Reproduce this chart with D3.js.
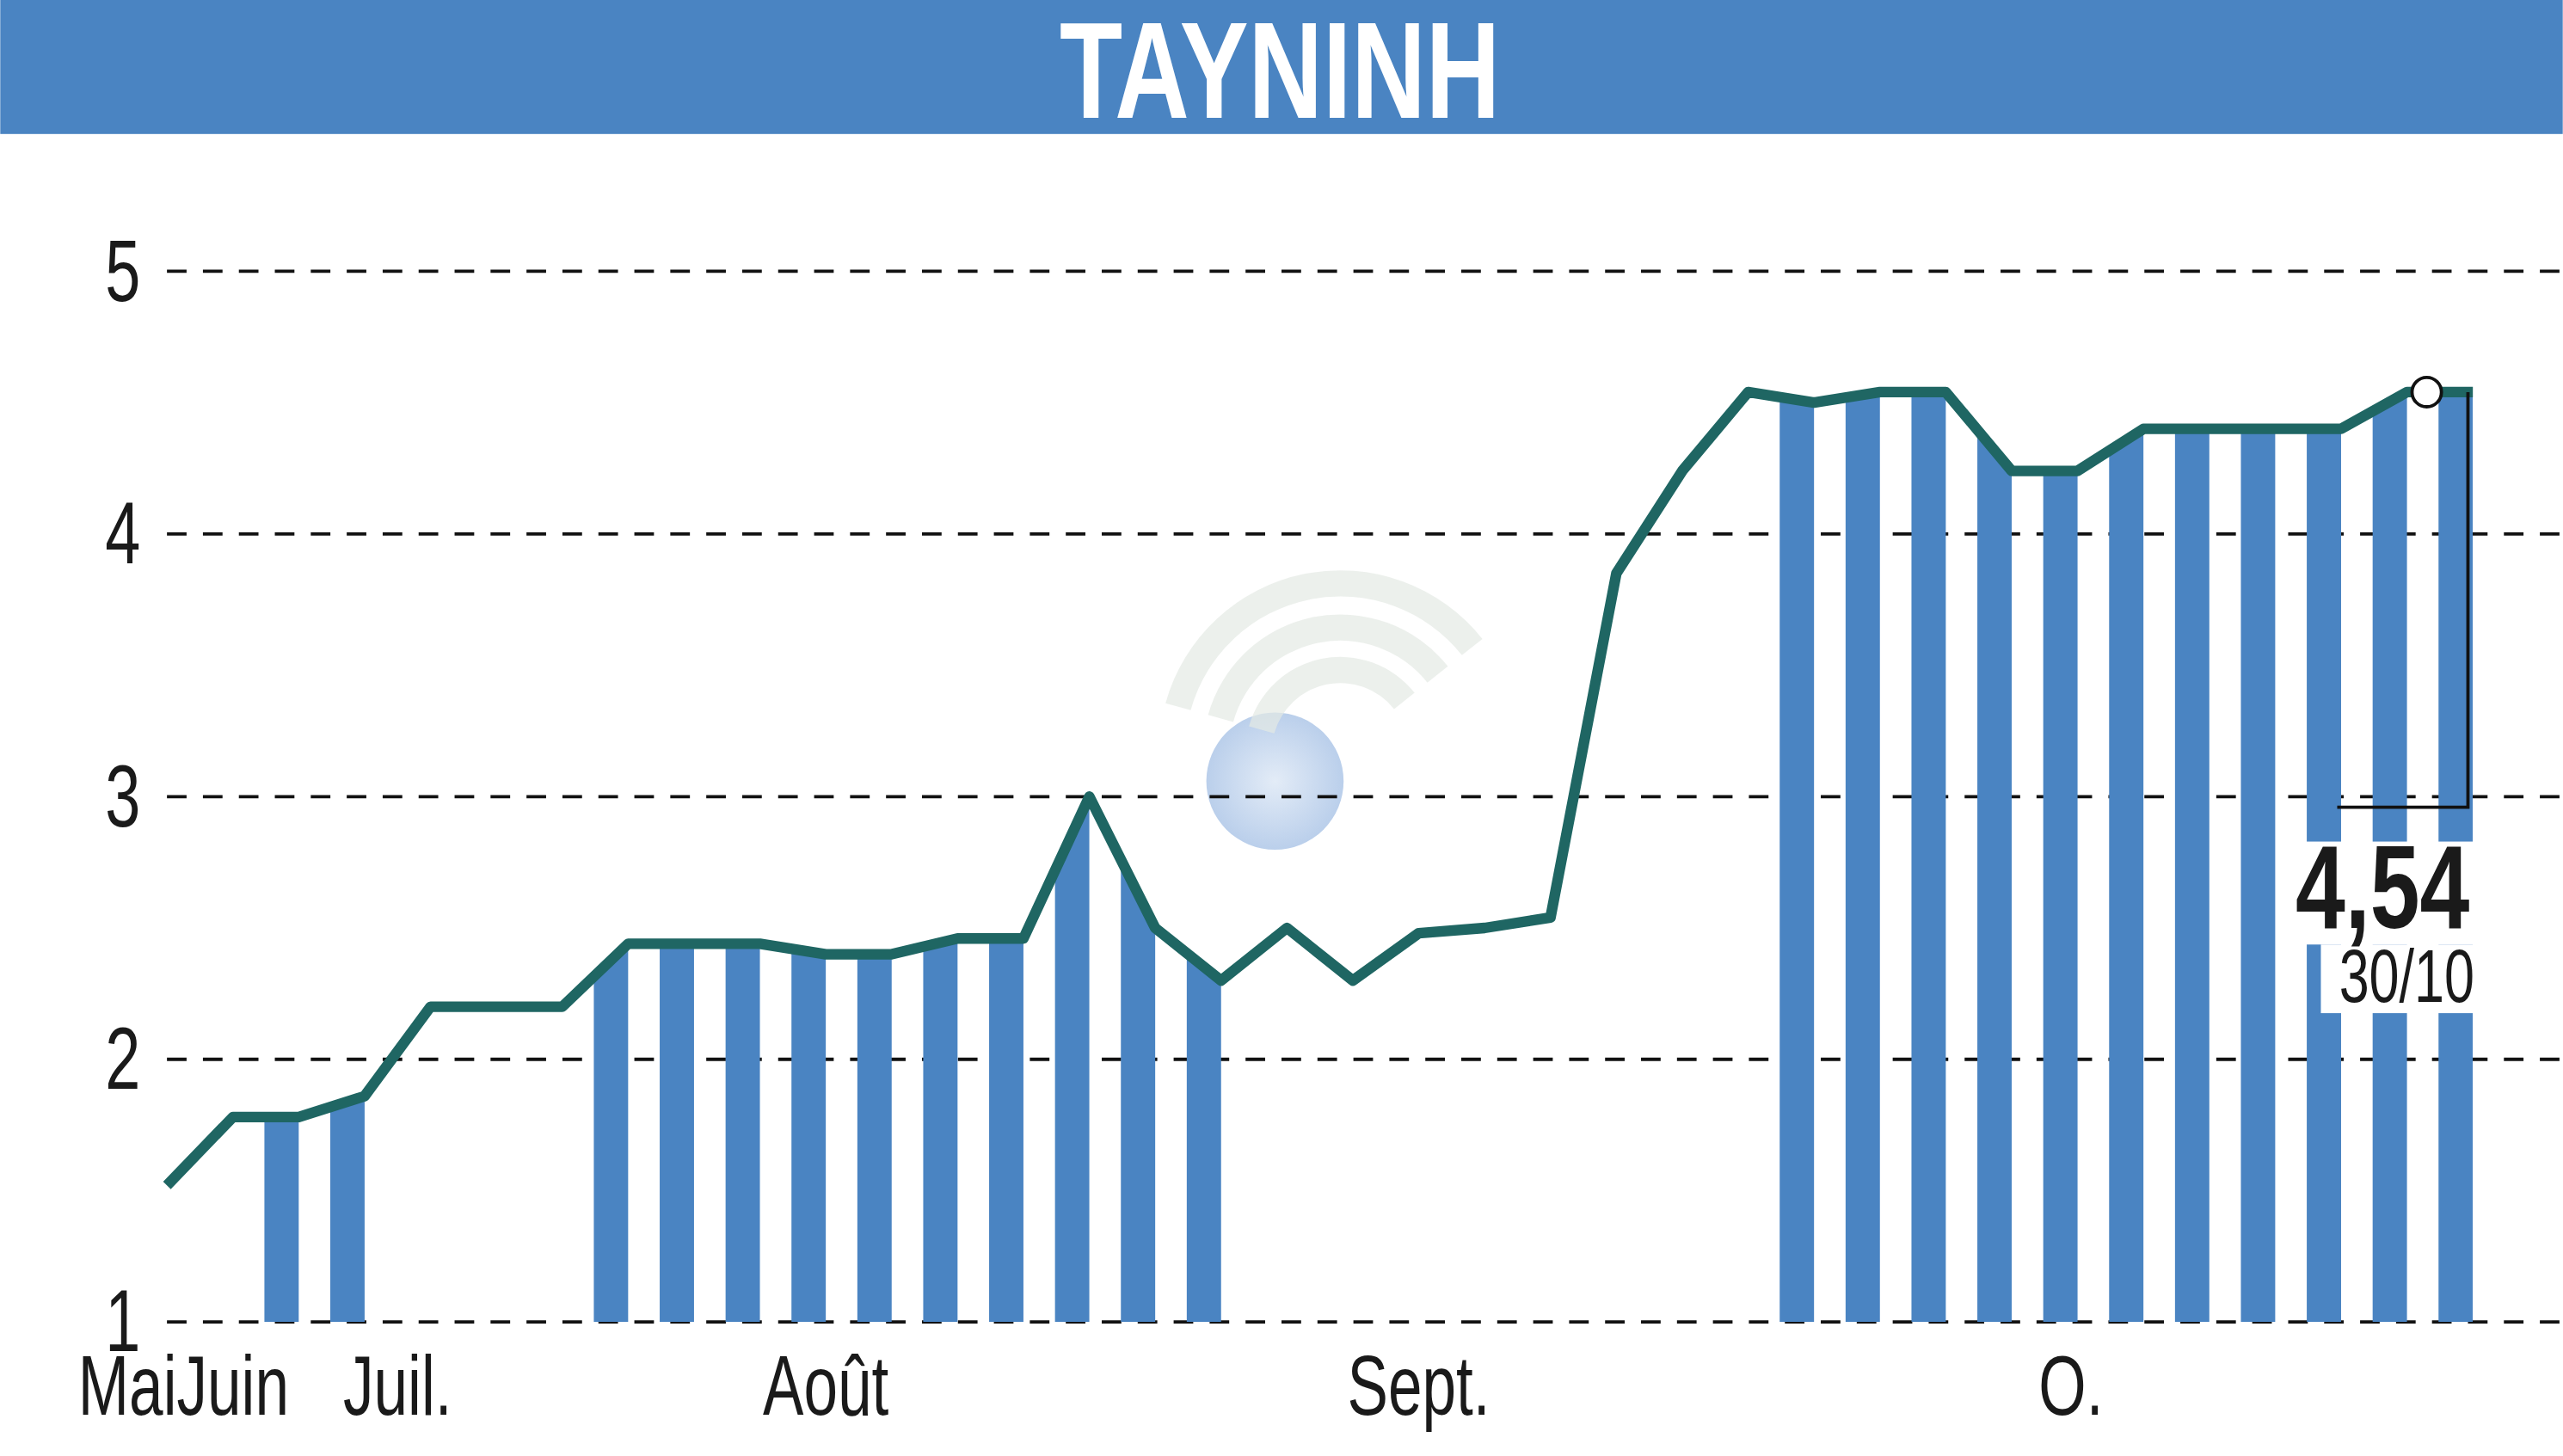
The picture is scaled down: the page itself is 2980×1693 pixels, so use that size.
<!DOCTYPE html>
<html>
<head>
<script src="https://cdn.jsdelivr.net/npm/d3@7"></script>
<style>body{margin:0;background:#fff}</style>
</head>
<body>
<div id="main"></div>
<script>
// price per session (index = session number)
var prices = [1.52,1.78,1.78,1.86,2.2,2.2,2.2,2.44,2.44,2.44,2.4,2.4,2.46,2.46,3.0,2.5,2.3,2.5,2.3,2.48,2.5,2.54,3.85,4.24,4.54,4.5,4.54,4.54,4.24,4.24,4.4,4.4,4.4,4.4,4.54,4.54];
// sessions with a stripe under the line
var stripes = [2,3,7,8,9,10,11,12,13,14,15,16,25,26,27,28,29,30,31,32,33,34,35];
var yTicks = [1,2,3,4,5];
var months = ["Mai","Juin","Juil.","Août","Sept.","O."];
var monthPos = [-0.6,1.0,3.5,10.0,19.0,28.9];
var lastValue = "4,54", lastDate = "30/10";

var W = 1568, H = 891;
var svg = d3.select('#main').append('svg')
  .attr('width', 2980).attr('height', 1693)
  .attr('viewBox', '0 0 ' + W + ' ' + H);

var x = d3.scaleLinear().domain([0, 35]).range([102, 1513]);
var y = d3.scaleLinear().domain([1, 5]).range([809, 166]);
var font = "'Liberation Sans',Arial,sans-serif";

// condensed text: squeeze horizontally around its anchor
function label(px, py, txt, size, anchor, opts) {
  opts = opts || {};
  var g = svg.append('g').attr('transform', 'translate(' + px + ',' + py + ') scale(' + (opts.sx || 0.72) + ',1)');
  return g.append('text').attr('text-anchor', anchor).attr('font-family', font)
    .attr('font-size', size).attr('font-weight', opts.bold ? 'bold' : 'normal')
    .attr('fill', opts.fill || '#1a1a1a').text(txt);
}

// header
svg.append('rect').attr('width', W).attr('height', 82).attr('fill', '#4a84c2');
label(783, 72, 'TAYNINH', 84, 'middle', {bold: true, fill: '#fff', sx: 0.75});

// watermark
var g0 = svg.append('defs').append('radialGradient').attr('id', 'wm');
g0.append('stop').attr('offset', '0%').attr('stop-color', '#dce7f5');
g0.append('stop').attr('offset', '100%').attr('stop-color', '#a9c3e6');
svg.append('circle').attr('cx', 780).attr('cy', 478).attr('r', 42).attr('fill', 'url(#wm)').attr('opacity', 0.8);
[95, 68, 42].forEach(function(r) {
  svg.append('path').attr('d', d3.arc().innerRadius(r).outerRadius(r + 16)
      .startAngle(-1.3).endAngle(0.9)())
    .attr('transform', 'translate(820,460)').attr('fill', '#e4e9e4').attr('opacity', 0.7);
});

// grid
svg.selectAll('.grid').data(yTicks).enter().append('line')
  .attr('x1', 102).attr('x2', W).attr('y1', y).attr('y2', y)
  .attr('stroke', '#111').attr('stroke-width', 2).attr('stroke-dasharray', '12,10');
yTicks.forEach(function(d) { label(75, y(d) + 18, d, 54, 'middle'); });

// stripes clipped to area under line
var area = d3.area().x(function(d, i) { return x(i); }).y0(y(1)).y1(function(d) { return y(d); });
svg.append('clipPath').attr('id', 'under').append('path').attr('d', area(prices));
svg.append('g').attr('clip-path', 'url(#under)').selectAll('rect').data(stripes).enter().append('rect')
  .attr('x', function(i) { return x(i) - 21; }).attr('width', 21)
  .attr('y', 150).attr('height', y(1) - 150).attr('fill', '#4a84c2');

// label boxes
svg.append('rect').attr('x', 1400).attr('y', 515).attr('width', 116).attr('height', 63).attr('fill', '#fff');
svg.append('rect').attr('x', 1420).attr('y', 578).attr('width', 96).attr('height', 42).attr('fill', '#fff');

// line
var line = d3.line().x(function(d, i) { return x(i); }).y(function(d) { return y(d); });
svg.append('path').attr('d', line(prices)).attr('fill', 'none')
  .attr('stroke', '#1f6663').attr('stroke-width', 6.5).attr('stroke-linejoin', 'round');

// x labels
months.forEach(function(m, i) { label(x(monthPos[i]), 866, m, 52, 'middle'); });

// last value marker
var cx = x(34.3), cy = y(prices[35]);
svg.append('path').attr('d', 'M1510,' + cy + 'V494H1430')
  .attr('fill', 'none').attr('stroke', '#111').attr('stroke-width', 2);
svg.append('circle').attr('cx', cx).attr('cy', cy).attr('r', 9)
  .attr('fill', '#fff').attr('stroke', '#111').attr('stroke-width', 2);
label(1511, 568, lastValue, 72, 'end', {bold: true, sx: 0.76});
label(1514, 613, lastDate, 46, 'end');
</script>
</body>
</html>
